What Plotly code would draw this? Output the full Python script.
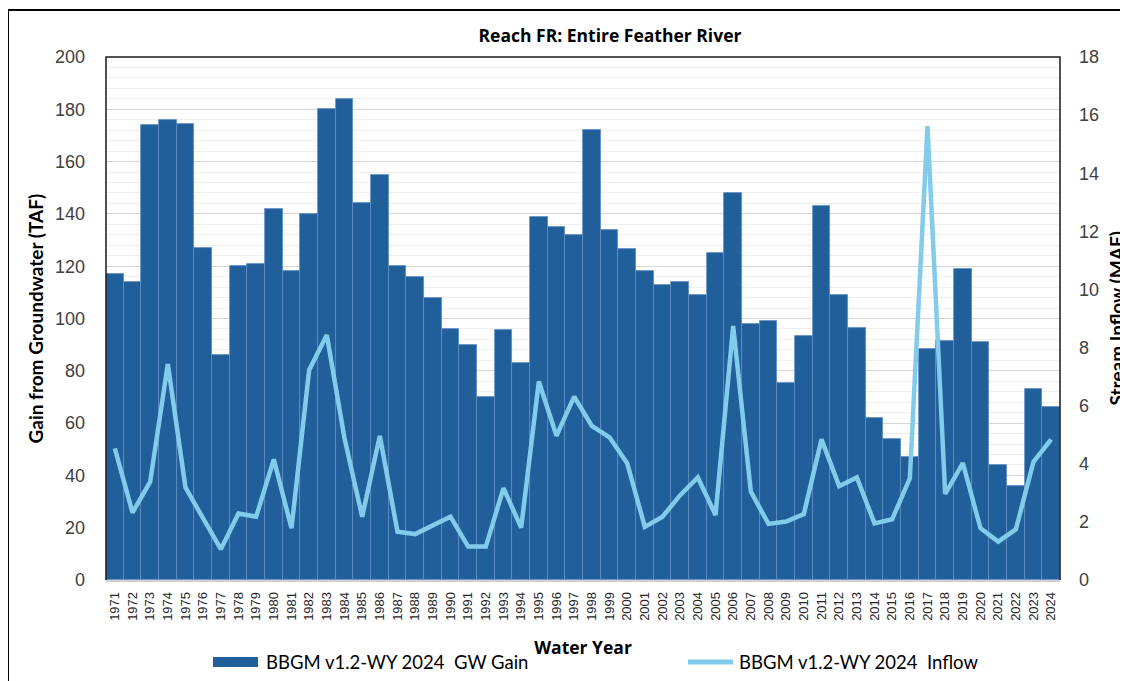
import plotly.graph_objects as go

years = list(range(1971, 2025))
gw_gain = [117, 114, 174, 176, 174.5, 127, 86, 120, 121, 142,
           118, 140, 180, 184, 144, 155, 120, 116, 108, 96,
           90, 70, 95.5, 83, 139, 135, 132, 172, 134, 126.5,
           118, 113, 114, 109, 125, 148, 98, 99, 75.5, 93.5,
           143, 109, 96.5, 62, 54, 47, 88.5, 91.5, 119, 91,
           44, 36, 73, 66]
inflow = [4.53, 2.32, 3.38, 7.43, 3.18, 2.09, 1.06, 2.29, 2.18, 4.15,
          1.78, 7.23, 8.43, 4.88, 2.18, 4.96, 1.66, 1.58, 1.9, 2.18,
          1.15, 1.15, 3.16, 1.8, 6.83, 4.96, 6.31, 5.3, 4.91, 4.02,
          1.83, 2.18, 2.92, 3.53, 2.24, 8.74, 3.04, 1.93, 2.01, 2.27,
          4.84, 3.23, 3.53, 1.95, 2.09, 3.5, 15.62, 2.96, 4.02, 1.78,
          1.32, 1.74, 4.07, 4.84]
tick_labels = [str(y) for y in years]

TITLE = "Reach FR: Entire Feather River"
LEFT_TITLE = "Gain from Groundwater (TAF)"
RIGHT_TITLE = "Stream Inflow (MAF)"
X_TITLE = "Water Year"
BAR_NAME = "BBGM v1.2-WY 2024\u00a0 GW Gain"
LINE_NAME = "BBGM v1.2-WY 2024\u00a0 Inflow"

BAR_COLOR = "#215f9a"
LINE_COLOR = "#83cbeb"

# page offset (browser body margin)
OFF = 8
PAGE_W, PAGE_H = 1128, 681
W, H = PAGE_W - OFF, PAGE_H - OFF
# plot area in page pixels
PX0, PX1, PY0, PY1 = 106, 1060, 57, 580
L, T = PX0 - OFF, PY0 - OFF
R, B = W - (PX1 - OFF), H - (PY1 - OFF)
pw, ph = PX1 - PX0, PY1 - PY0

def px_x(x):
    return (x - PX0) / pw

def px_y(y):
    return (PY1 - y) / ph

fig = go.Figure()
fig.add_trace(go.Bar(
    x=years, y=gw_gain, name=BAR_NAME,
    marker=dict(color=BAR_COLOR, line=dict(color="#5f8fc4", width=0.8)),
    width=1.0, showlegend=False,
))
fig.add_trace(go.Scatter(
    x=years, y=inflow, name=LINE_NAME, yaxis="y2", mode="lines",
    line=dict(color=LINE_COLOR, width=4.5), showlegend=False,
))

tick_font = dict(family="Liberation Sans, Arial, sans-serif", size=18, color="#404040")
legend_font = dict(family="Lato, sans-serif", size=18.5, color="#000000")
ytitle_font = dict(family="Lato, sans-serif", size=19, color="#000000")

fig.update_layout(
    width=W, height=H,
    margin=dict(l=L, r=R, t=T, b=B, autoexpand=False),
    paper_bgcolor="white", plot_bgcolor="white",
    bargap=0,
    showlegend=False,
    title=dict(text="<b>" + TITLE + "</b>", x=(610 - OFF) / W, xanchor="center",
               y=1 - (36 - OFF) / H, yanchor="middle",
               font=dict(family="Open Sans, sans-serif", size=17.5, color="#000000")),
    xaxis=dict(
        range=[1970.5, 2024.5], tickmode="array", tickvals=years, ticktext=tick_labels,
        tickangle=-90, tickfont=dict(family="Liberation Sans, Arial, sans-serif", size=13, color="#262626"),
        showgrid=False, showline=True, linecolor="#d0d0d0", linewidth=1.5,
        ticks="", zeroline=False, automargin=False, ticklabelstandoff=5,
        title=dict(text="<b>" + X_TITLE + "</b>", standoff=22,
                   font=dict(family="Open Sans, sans-serif", size=17.5, color="#000000")),
    ),
    yaxis=dict(
        range=[0, 200], dtick=20, tick0=0, tickfont=tick_font,
        showgrid=True, gridcolor="#d6d6d6", gridwidth=1.2,
        minor=dict(dtick=4, tick0=0, showgrid=True, gridcolor="#efefef", gridwidth=1.2),
        zeroline=False, showline=False, ticks="", ticklabelstandoff=20, automargin=False,
    ),
    yaxis2=dict(
        range=[0, 18], dtick=2, tick0=0, overlaying="y", side="right",
        tickfont=tick_font, showgrid=False, zeroline=False, showline=False,
        ticks="", ticklabelstandoff=18, automargin=False,
    ),
    annotations=[
        dict(text="<b>" + LEFT_TITLE + "</b>", xref="paper", yref="paper",
             x=px_x(35), y=0.5, textangle=-90, showarrow=False,
             xanchor="center", yanchor="middle", font=ytitle_font),
        dict(text="<b>" + RIGHT_TITLE + "</b>", xref="paper", yref="paper",
             x=px_x(1116), y=0.5, textangle=-90, showarrow=False,
             xanchor="center", yanchor="middle", font=ytitle_font),
        # legend texts
        dict(text=BAR_NAME, xref="paper", yref="paper", x=px_x(264), y=px_y(662),
             xanchor="left", yanchor="middle", showarrow=False, font=legend_font),
        dict(text=LINE_NAME, xref="paper", yref="paper", x=px_x(737), y=px_y(662),
             xanchor="left", yanchor="middle", showarrow=False, font=legend_font),
    ],
    shapes=[
        # plot area frame (left, top, right)
        dict(type="path", xref="paper", yref="paper",
             path="M 0 0 L 0 1 L 1 1 L 1 0",
             line=dict(color="#1a1a1a", width=1.5), layer="above"),
        # outer chart border
        dict(type="rect", xref="paper", yref="paper",
             x0=px_x(8), x1=px_x(1140), y0=px_y(700), y1=px_y(10),
             line=dict(color="#000000", width=2), fillcolor="rgba(0,0,0,0)", layer="above"),
        # legend swatches
        dict(type="rect", xref="paper", yref="paper",
             x0=px_x(213), x1=px_x(258), y0=px_y(667), y1=px_y(657),
             line=dict(width=0), fillcolor=BAR_COLOR),
        dict(type="line", xref="paper", yref="paper",
             x0=px_x(688), x1=px_x(733), y0=px_y(662), y1=px_y(662),
             line=dict(color=LINE_COLOR, width=5)),
    ],
)

fig.write_html("out.html")
